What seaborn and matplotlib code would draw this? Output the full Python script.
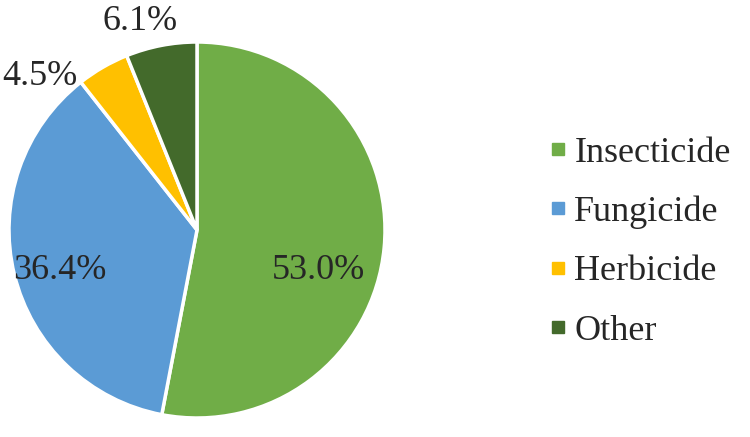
import seaborn as sns
import matplotlib.pyplot as plt
from matplotlib.lines import Line2D

# Data
categories = ['Insecticide', 'Fungicide', 'Herbicide', 'Other']
shares = [53.0, 36.4, 4.5, 6.1]
colors = ['#70AD47', '#5B9BD5', '#FFC000', '#436A2B']

sns.set_theme(style="white")
plt.rcParams['font.family'] = ['Liberation Serif', 'DejaVu Serif']

fig = plt.figure(figsize=(7.5, 4.37), dpi=100)
ax = fig.add_axes([9 / 750, 19 / 437, 376 / 750, 376 / 437])

wedges, texts, autotexts = ax.pie(
    shares, colors=colors, startangle=90, counterclock=False,
    autopct='%.1f%%', pctdistance=0.68,
    wedgeprops=dict(edgecolor='white', linewidth=2.5),
    textprops=dict(fontsize=26, color='#262626'))

# label placement (Excel "best fit" style)
label_pos = [(0.644, -0.213), (-0.729, -0.213), (-0.835, 0.815), (-0.303, 1.11)]
for t, p in zip(autotexts, label_pos):
    t.set_position(p)
    t.set_ha('center')
    t.set_va('center')

ax.set_xlim(-1, 1)
ax.set_ylim(-1, 1)
ax.set_aspect('equal')
ax.axis('off')

handles = [Line2D([], [], marker='s', linestyle='', markersize=8,
                  markerfacecolor=c, markeredgecolor=c) for c in colors]
fig.legend(handles, categories, loc='center left',
           bbox_to_anchor=(549 / 750, 1 - 242 / 437), frameon=False,
           fontsize=26, labelspacing=0.72, handlelength=0.5,
           handletextpad=0.2, borderpad=0, borderaxespad=0,
           labelcolor='#262626')

plt.savefig('out.png', dpi=100)
